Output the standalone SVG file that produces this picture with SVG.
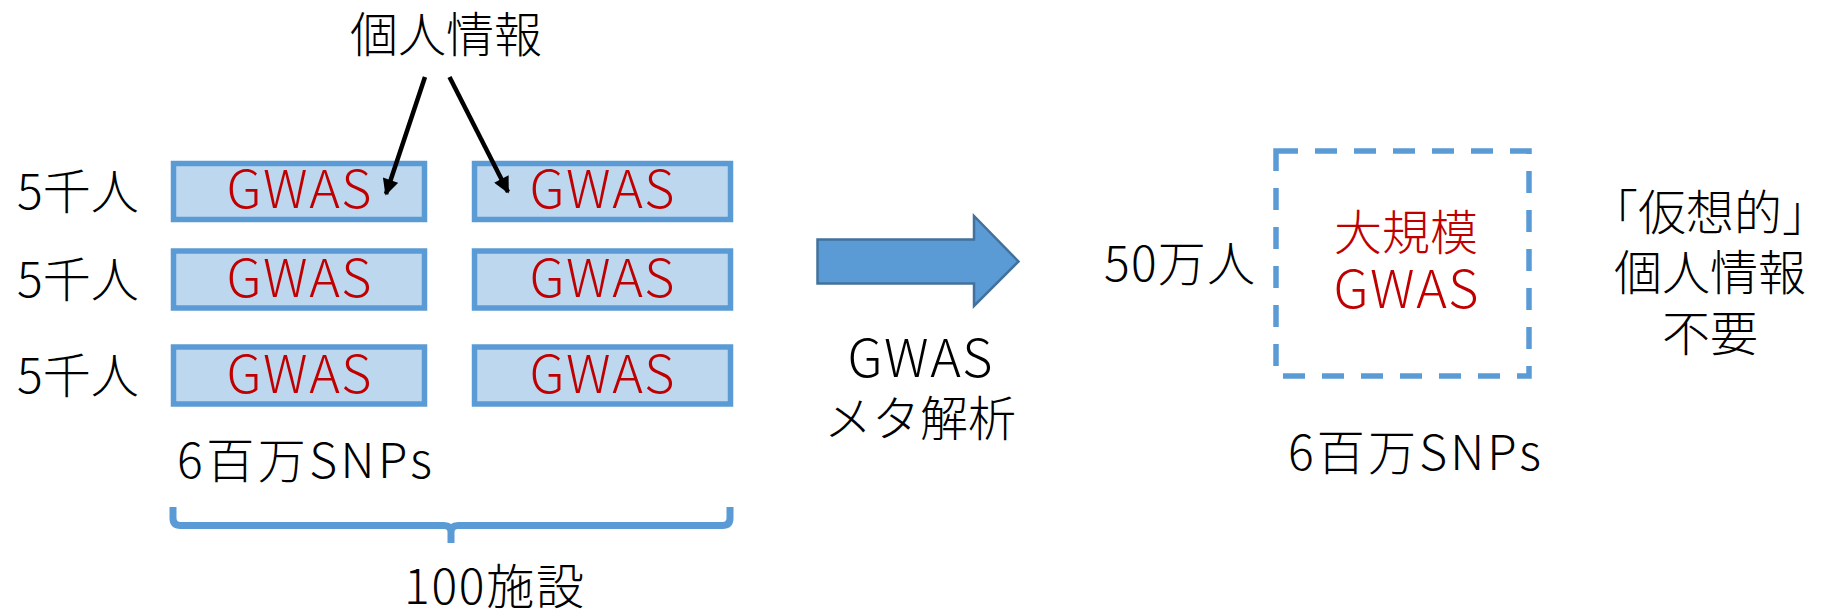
<svg xmlns="http://www.w3.org/2000/svg" width="1822" height="610" viewBox="0 0 1822 610">
<defs>
<style>
text{font-family:"Noto Sans CJK JP","Noto Sans CJK SC",sans-serif;fill:#000;font-weight:300;}
.jp{font-size:48px;}
.gw{font-size:52px;fill:#C00000;}
.red{fill:#C00000;}
.box{fill:#BDD7EE;stroke:#5B9BD5;stroke-width:5.5;}
.conn{stroke:#000;stroke-width:4.5;fill:none;}
</style>
<marker id="ah" viewBox="0 0 10 10" refX="9" refY="5" markerWidth="4" markerHeight="3.6" orient="auto" markerUnits="strokeWidth">
<path d="M0,0 L10,5 L0,10 z" fill="#000"/>
</marker>
</defs>
<rect width="1822" height="610" fill="#fff"/>

<g id="label-kojin-top"><text class="jp" x="350" y="52">個人情報</text></g>

<g id="row-labels">
<text class="jp" x="17" y="209">5千人</text>
<text class="jp" x="17" y="297">5千人</text>
<text class="jp" x="17" y="393">5千人</text>
</g>

<g id="gwas-r1c1"><rect class="box" x="173.5" y="163.5" width="251" height="56"/><text class="gw" x="299" y="208" text-anchor="middle" textLength="145">GWAS</text></g>
<g id="gwas-r1c2"><rect class="box" x="474.5" y="163.5" width="256" height="56"/><text class="gw" x="602" y="208" text-anchor="middle" textLength="145">GWAS</text></g>
<g id="gwas-r2c1"><rect class="box" x="173.5" y="251" width="251" height="57"/><text class="gw" x="299" y="296.5" text-anchor="middle" textLength="145">GWAS</text></g>
<g id="gwas-r2c2"><rect class="box" x="474.5" y="251" width="256" height="57"/><text class="gw" x="602" y="296.5" text-anchor="middle" textLength="145">GWAS</text></g>
<g id="gwas-r3c1"><rect class="box" x="173.5" y="347" width="251" height="57"/><text class="gw" x="299" y="392.5" text-anchor="middle" textLength="145">GWAS</text></g>
<g id="gwas-r3c2"><rect class="box" x="474.5" y="347" width="256" height="57"/><text class="gw" x="602" y="392.5" text-anchor="middle" textLength="145">GWAS</text></g>

<g id="label-snps-left"><text class="jp" x="177" y="478" textLength="255">6百万SNPs</text></g>

<g id="brace"><path d="M173,507 V518 Q173,525.5 180.5,525.5 H444 Q451,525.5 451,532 V543 M451,532 Q451,525.5 458,525.5 H722.5 Q730,525.5 730,518 V507" fill="none" stroke="#5B9BD5" stroke-width="7"/></g>

<g id="label-100"><text class="jp" x="404" y="604" textLength="180">100施設</text></g>

<g id="meta-arrow"><path d="M817.5,239.5 H974 V216 L1018.5,261.5 L974,306 V283.5 H817.5 Z" fill="#5B9BD5" stroke="#41719C" stroke-width="2.5" stroke-linejoin="miter"/></g>

<g id="label-meta">
<text class="jp" x="920" y="376.5" text-anchor="middle" style="font-size:52px" textLength="145">GWAS</text>
<text class="jp" x="920" y="435.5" text-anchor="middle">メタ解析</text>
</g>

<g id="label-50man"><text class="jp" x="1104" y="281" textLength="151">50万人</text></g>

<g id="large-gwas">
<rect x="1276" y="151" width="253" height="225" fill="none" stroke="#5B9BD5" stroke-width="5.5" stroke-dasharray="22,17"/>
<text class="jp red" x="1406" y="249.5" text-anchor="middle">大規模</text>
<text class="gw" x="1406" y="308" text-anchor="middle" textLength="145">GWAS</text>
</g>

<g id="label-snps-right"><text class="jp" x="1288" y="470" textLength="253">6百万SNPs</text></g>

<g id="label-virtual">
<text class="jp" x="1710" y="229.5" text-anchor="middle">「仮想的」</text>
<text class="jp" x="1710" y="289.5" text-anchor="middle">個人情報</text>
<text class="jp" x="1710" y="351" text-anchor="middle">不要</text>
</g>

<g id="connectors">
<line class="conn" x1="425" y1="77" x2="386" y2="194" marker-end="url(#ah)"/>
<line class="conn" x1="449.5" y1="77" x2="508" y2="192" marker-end="url(#ah)"/>
</g>
</svg>
